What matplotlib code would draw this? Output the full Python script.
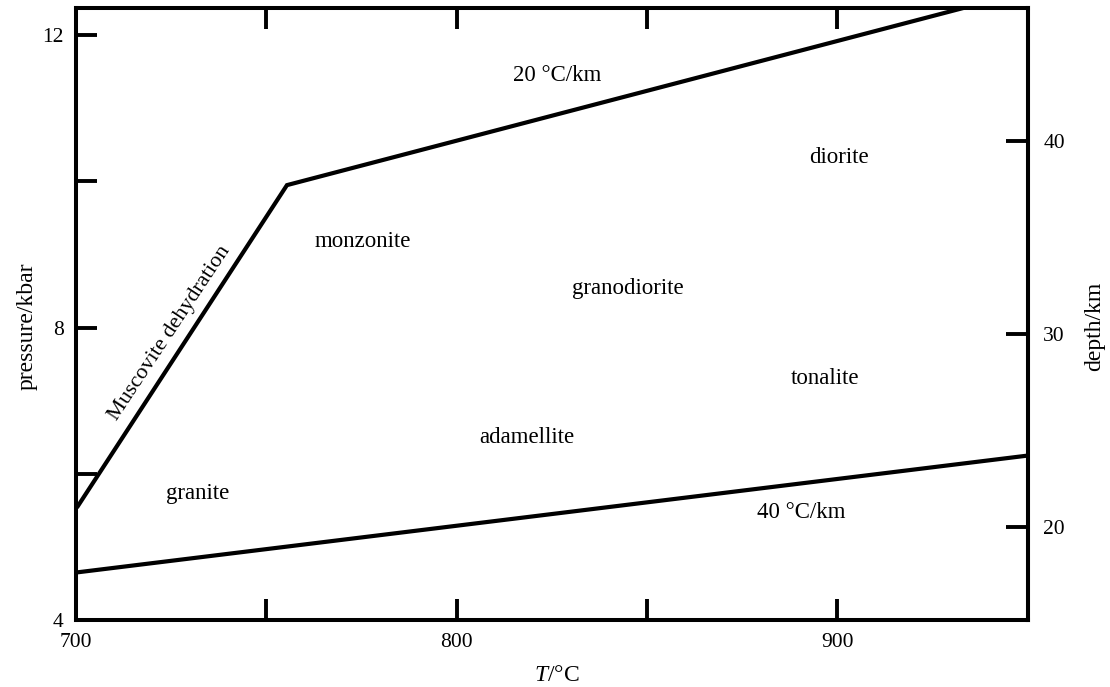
import numpy as np
import matplotlib
matplotlib.use('Agg')
import matplotlib.pyplot as plt

plt.rcParams['font.family'] = ['Liberation Serif', 'DejaVu Serif']
plt.rcParams['mathtext.fontset'] = 'custom'
plt.rcParams['mathtext.rm'] = 'Liberation Serif'
plt.rcParams['mathtext.it'] = 'Liberation Serif:italic'

# boundaries (T in degC, P in kbar)
upper_T = [700.5, 755.4, 932.8]   # muscovite dehydration then 20 C/km geotherm
upper_P = [5.56, 9.95, 12.37]
lower_T = [700, 950]              # 40 C/km geotherm
lower_P = [4.65, 6.25]

km_per_kbar = 3.79

labels = ['20 °C/km', 'diorite', 'monzonite', 'granodiorite', 'tonalite',
          'adamellite', 'granite', '40 °C/km']
label_T = [826.5, 900.5, 775.3, 844.9, 896.6, 818.4, 732.0, 890.5]
label_P = [11.45, 10.33, 9.18, 8.53, 7.31, 6.50, 5.73, 5.47]

xticks = [700, 750, 800, 850, 900, 950]
xticklabels = ['700', '', '800', '', '900', '']
yticks = [4, 6, 8, 10, 12]
yticklabels = ['4', '', '8', '', '12']
depth_ticks = [20, 30, 40]

fig = plt.figure(figsize=(11.1, 6.87), dpi=100)
ax = fig.add_axes([0.0685, 0.0975, 0.8575, 0.8905])

ax.plot(upper_T, upper_P, color='black', lw=3, solid_joinstyle='miter')
ax.plot(lower_T, lower_P, color='black', lw=3)

for s, t, p in zip(labels, label_T, label_P):
    ax.text(t, p, s, ha='center', va='center', fontsize=16.5)

ax.text(724.5, 7.93, 'Muscovite dehydration', rotation=56.5,
        ha='center', va='center', rotation_mode='anchor', fontsize=16)

ax.set_xlim(700, 950)
ax.set_ylim(4, 12.37)

ax.set_xticks(xticks, labels=xticklabels)
ax.set_yticks(yticks, labels=yticklabels)
ax.tick_params(direction='in', length=15, width=2.8, labelsize=15.5, top=True)
ax.tick_params(axis='x', pad=9)
ax.tick_params(axis='y', pad=9)

for sp in ax.spines.values():
    sp.set_linewidth(2.9)

ax.set_xlabel(r'$T$/°C', fontsize=17)
ax.xaxis.set_label_coords(0.505, -0.0735)
ax.set_ylabel('pressure/kbar', fontsize=17)
ax.yaxis.set_label_coords(-0.04, 0.48)

sec = ax.secondary_yaxis('right', functions=(lambda p: p * km_per_kbar,
                                             lambda d: d / km_per_kbar))
sec.set_yticks(depth_ticks)
sec.tick_params(direction='in', length=16, width=2.8, labelsize=15.5, pad=11)
sec.spines['right'].set_linewidth(2.9)
sec.set_ylabel('depth/km', fontsize=17, labelpad=14)
sec.yaxis.label.set_y(0.48)

fig.savefig('out.png', dpi=100)
